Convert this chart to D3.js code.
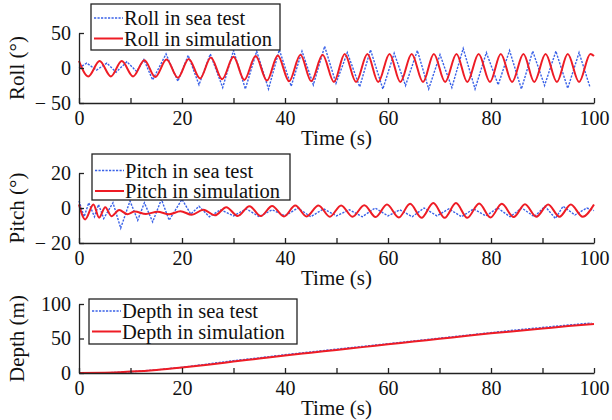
<!DOCTYPE html>
<html>
<head>
<meta charset="utf-8">
<script src="https://cdn.jsdelivr.net/npm/d3@7"></script>
<style>
  body { margin: 0; background: #fff; }
  svg { display: block; font-family: "Liberation Serif", "Times New Roman", serif; }
</style>
</head>
<body>
<svg></svg>
<script>
// tick labels
let xTicks = [0, 10, 20, 30, 40, 50, 60, 70, 80, 90, 100]
let rollTicks = [-50, 0, 50]
let pitchTicks = [-20, 0, 20]
let depthTicks = [0, 50, 100]

// [time (s), value]
let rollSea = [[0,0],[1.5,7],[3.4,-3],[5.4,7],[7.2,-6],[9.3,9],[11.2,-5],[12.6,12],[14.3,-17],[16.9,20],[19.2,-19],
  [21.2,18],[23.3,-24],[25.5,20],[27.9,-28],[30.0,25],[32.3,-30],[34.5,24],[36.8,-30],[38.9,26],[41.2,-26],
  [43.3,24],[45.5,-24],[47.7,31],[49.9,-22],[52.1,22],[54.5,-27],[56.6,26],[59.0,-30],[61.2,21],[63.4,-25],
  [65.7,25],[67.9,-30],[70.1,19],[72.4,-28],[74.6,28],[76.9,-30],[79.1,22],[81.4,-24],[83.6,25],[85.9,-30],
  [88.1,24],[90.4,-25],[92.6,24],[94.9,-29],[97.1,22],[99.2,-27]]

let rollSim = [[0,10],[1.8,-12],[4.0,10],[6.2,-12],[8.3,10],[10.5,-12],[12.7,11],[14.8,-13],[17.0,12],[19.2,-14],
  [21.3,13],[23.5,-15],[25.6,15],[27.8,-16],[30.0,16],[32.1,-17],[34.3,17],[36.5,-18],[38.6,18],[40.8,-19],
  [43.0,19],[45.1,-19],[47.3,19],[49.5,-20],[51.6,20],[53.8,-20],[56.0,20],[58.1,-20],[60.3,20],[62.4,-20],
  [64.6,20],[66.8,-20],[68.9,20],[71.1,-20],[73.3,20],[75.4,-20],[77.6,20],[79.8,-20],[81.9,20],[84.1,-20],
  [86.3,20],[88.4,-20],[90.6,20],[92.8,-20],[94.9,20],[97.1,-20],[99.3,20],[100,17]]

let pitchSea = [[0,4],[1.0,-5],[1.9,3],[3.0,-5],[3.8,2],[4.8,-6],[6.6,3],[8.1,-11.5],[9.9,4],[11.4,-7],
  [12.7,3],[14.3,-8],[16.0,5],[17.5,-7],[20.0,5],[21.7,-3.5],[23.3,1],[25.3,-5],[27.5,-1],[30.0,-4.5],
  [32.5,-0.5],[35.0,-5],[37.5,-1],[40.0,-4.5],[42.5,0],[45.0,-5],[47.5,-0.5],[50.0,-4.5],[52.5,-1],[55.0,-5],
  [57.5,0],[60.0,-4.5],[62.3,-1],[64.7,-5],[67.0,0],[69.5,-4.5],[71.8,-0.5],[74.3,-5],[76.6,-0.5],[79.0,-4.5],
  [81.3,0],[83.7,-5],[86.0,0],[88.4,-5],[90.5,1],[92.5,-6],[94.0,1],[96.3,-4],[98.6,0],[100,-1.5]]

let pitchSim = [[0,2],[1.2,-6.5],[2.8,2],[3.9,-5.5],[5.1,0.5],[6.3,-4.7],[7.8,-1.2],[9.4,-3.5],[10.8,-2.0],
  [13.0,-3.4],[15.25,-2.2],[17.5,-3.6],[19.7,-1.8],[21.9,-3.9],[24.15,-1.0],[26.4,-4.2],[28.6,0.5],[30.8,-4.5],
  [33.1,1.0],[35.3,-4.6],[37.5,1.2],[39.8,-4.8],[42.0,1.4],[44.2,-4.8],[46.5,1.5],[48.7,-5.0],[50.9,1.5],
  [53.1,-5.0],[55.4,1.6],[57.6,-5.2],[59.8,2.0],[62.1,-5.4],[64.3,2.4],[66.5,-5.6],[68.8,2.8],[71.0,-5.6],
  [73.2,2.8],[75.4,-5.6],[77.7,2.6],[79.9,-5.4],[82.1,2.4],[84.4,-5.2],[86.6,2.2],[88.8,-5.0],[91.1,2.0],
  [93.3,-5.0],[95.5,2.0],[97.8,-5.0],[100,2.0]]

let depthSea = [[0,0],[5,0.2],[10,1.8],[15,4.5],[20,8.3],[25,13],[30,18],[35,22],[40,26.5],[45,30.5],[50,34.5],
  [55,38.5],[60,42.5],[65,46.5],[70,50.5],[75,54.5],[80,58.5],[85,62.5],[90,66],[95,69.5],[99.5,72.5]]

let depthSim = [[0,0],[5,0.3],[10,2],[15,4.5],[20,8],[25,12],[30,16.5],[35,21],[40,25.5],[45,29.5],[50,33.5],
  [55,37.5],[60,41.5],[65,45.5],[70,49.5],[75,53.5],[80,57.5],[85,61],[90,64.5],[95,68],[100,71]]

let width = 612
let height = 420
let blue = "#3a62e8"
let red = "#ee1c25"

let svg = d3.select("svg").attr("width", width).attr("height", height)

let xScale = d3.scaleLinear().domain([0, 100]).range([79, 594])

// one entry per panel, layout only
let panels = [
  { label: "Roll (\u00b0)", domain: [-50, 50], top: 33, bottom: 103, ticks: rollTicks,
    sea: rollSea, sim: rollSim, names: ["Roll in sea test", "Roll in simulation"],
    legend: { x: 91, y: 4, w: 189, h: 46, r1: 18, r2: 38.5 } },
  { label: "Pitch (\u00b0)", domain: [-20, 20], top: 173, bottom: 243, ticks: pitchTicks,
    sea: pitchSea, sim: pitchSim, names: ["Pitch in sea test", "Pitch in simulation"],
    legend: { x: 92, y: 154, w: 198, h: 46, r1: 170.5, r2: 191 } },
  { label: "Depth (m)", domain: [0, 100], top: 304, bottom: 373, ticks: depthTicks,
    sea: depthSea, sim: depthSim, names: ["Depth in sea test", "Depth in simulation"],
    legend: { x: 89, y: 299, w: 208, h: 45, r1: 311, r2: 331.5 } }
]

let fmt = (d) => d < 0 ? "\u2212 " + Math.abs(d) : d

panels.forEach((p) => {
  let yScale = d3.scaleLinear().domain(p.domain).range([p.bottom, p.top])
  let g = svg.append("g")

  // sea test first, simulation on top
  let seaLine = d3.line().x(d => xScale(d[0])).y(d => yScale(d[1]))
  let simLine = d3.line().curve(d3.curveMonotoneX).x(d => xScale(d[0])).y(d => yScale(d[1]))

  g.append("path").datum(p.sea).attr("d", seaLine)
    .attr("fill", "none").attr("stroke", blue).attr("stroke-width", 1.4)
    .attr("stroke-dasharray", "2.2,1.3")
  g.append("path").datum(p.sim).attr("d", simLine)
    .attr("fill", "none").attr("stroke", red).attr("stroke-width", 2)

  let xAxis = d3.axisBottom(xScale).tickValues(xTicks).tickSize(-5).tickSizeOuter(0)
    .tickPadding(8).tickFormat(d => d % 20 === 0 ? d : "")
  let yAxis = d3.axisLeft(yScale).tickValues(p.ticks).tickSize(-5).tickSizeOuter(0)
    .tickPadding(8).tickFormat(fmt)

  let gx = g.append("g").attr("transform", "translate(0," + p.bottom + ")").call(xAxis)
  let gy = g.append("g").attr("transform", "translate(79,0)").call(yAxis)
  ;[gx, gy].forEach(a => {
    a.selectAll("path, line").attr("stroke", "#222").attr("stroke-width", 1.3)
    a.selectAll("text").attr("fill", "#111").style("font-size", "20px")
      .style("font-family", "'Liberation Serif', 'Times New Roman', serif")
  })

  g.append("text").attr("x", 336.5).attr("y", p.bottom + 42)
    .attr("text-anchor", "middle").style("font-size", "21px").attr("fill", "#111").text("Time (s)")

  g.append("text")
    .attr("transform", "translate(24," + ((p.top + p.bottom) / 2) + ") rotate(-90)")
    .attr("text-anchor", "middle").style("font-size", "21px").attr("fill", "#111").text(p.label)

  // legend box
  let L = p.legend
  g.append("rect").attr("x", L.x).attr("y", L.y).attr("width", L.w).attr("height", L.h)
    .attr("fill", "#fff").attr("stroke", "#222").attr("stroke-width", 1.3)
  g.append("line").attr("x1", L.x + 3).attr("x2", L.x + 32).attr("y1", L.r1).attr("y2", L.r1)
    .attr("stroke", blue).attr("stroke-width", 1.4).attr("stroke-dasharray", "2.2,1.3")
  g.append("line").attr("x1", L.x + 3).attr("x2", L.x + 32).attr("y1", L.r2).attr("y2", L.r2)
    .attr("stroke", red).attr("stroke-width", 2)
  g.append("text").attr("x", L.x + 33).attr("y", L.r1 + 7).style("font-size", "20.5px")
    .attr("fill", "#111").text(p.names[0])
  g.append("text").attr("x", L.x + 33).attr("y", L.r2 + 7).style("font-size", "20.5px")
    .attr("fill", "#111").text(p.names[1])
})
</script>
</body>
</html>
